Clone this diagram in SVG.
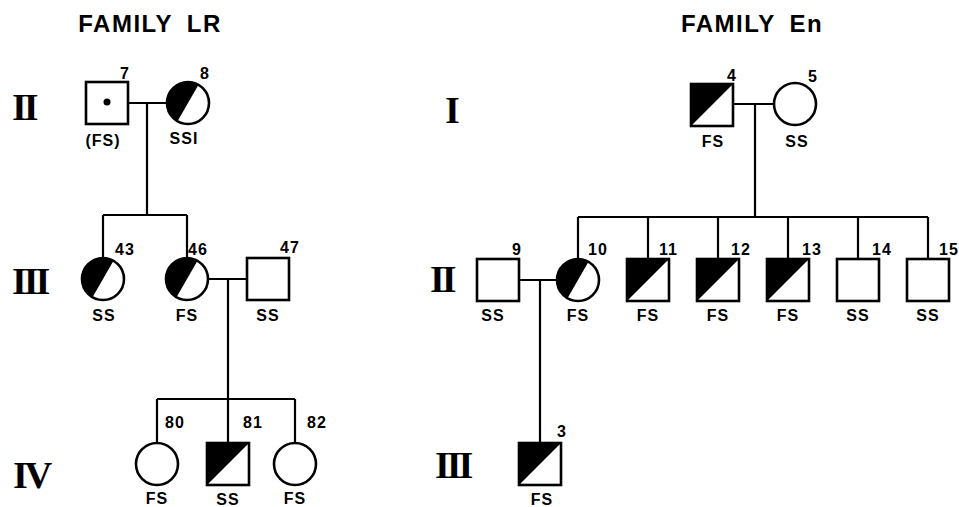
<svg xmlns="http://www.w3.org/2000/svg" xmlns:xlink="http://www.w3.org/1999/xlink" width="959" height="507" viewBox="0 0 959 507">
<style>
.sym{fill:none;stroke:#000;stroke-width:2.6}
.ln{fill:none;stroke:#000;stroke-width:2.2}
.t{font-family:"Liberation Sans",Arial,sans-serif;font-weight:bold;fill:#000}
.title{font-size:24px;letter-spacing:1.5px;word-spacing:6px;text-anchor:middle}
.num{font-size:16px;letter-spacing:1px}
.lab{font-size:16px;letter-spacing:1px;text-anchor:middle}
.rom{font-family:"Liberation Serif","Times New Roman",serif;font-weight:bold;font-size:38px;letter-spacing:-3px;fill:#000}
</style>
<defs>
<g id="hcirc"><path d="M-10.5,18.2 A21,21 0 0 1 10.5,-18.2 Z" fill="#000"/><circle r="21" class="sym"/></g>
<g id="hsq"><path d="M-21,-21 H21 L-21,21 Z" fill="#000"/><rect x="-21" y="-21" width="42" height="42" class="sym"/></g>
<g id="sq"><rect x="-21" y="-21" width="42" height="42" class="sym"/></g>
<g id="circ"><circle r="21" class="sym"/></g>
</defs>
<rect width="959" height="507" fill="#fff"/>

<text class="t title" x="150" y="32">FAMILY LR</text>
<text class="t title" x="752" y="32">FAMILY En</text>

<g id="generations">
<text class="rom" x="12" y="120">II</text>
<text class="rom" x="12" y="294">III</text>
<text class="rom" x="13" y="488">IV</text>
<text class="rom" x="445" y="123">I</text>
<text class="rom" x="430" y="292">II</text>
<text class="rom" x="435" y="478">III</text>
</g>

<g id="connectors">
<path class="ln" d="M128,103 H167 M147,103 V215 M103,215 H187 M103,215 V258 M187,215 V258"/>
<path class="ln" d="M208,279 H247 M228,279 V399 M157,399 H295 M157,399 V443 M228,399 V443 M295,399 V443"/>
<path class="ln" d="M733,104 H774 M755,104 V217 M578,217 H928 M578,217 V259 M648,217 V259 M718,217 V259 M788,217 V259 M858,217 V259 M928,217 V259"/>
<path class="ln" d="M519,280 H557 M540,280 V443"/>
</g>

<g id="LR7"><use xlink:href="#sq" x="107" y="103"/><circle cx="107" cy="102" r="3.5" fill="#000"/><text class="t num" x="120" y="79">7</text><text class="t lab" x="103" y="146">(FS)</text></g>
<g id="LR8"><use xlink:href="#hcirc" x="188" y="103"/><text class="t num" x="200" y="79">8</text><text class="t lab" x="184" y="144">SSI</text></g>
<g id="LR43"><use xlink:href="#hcirc" x="103" y="279"/><text class="t num" x="115" y="255">43</text><text class="t lab" x="104" y="321">SS</text></g>
<g id="LR46"><use xlink:href="#hcirc" x="187" y="279"/><text class="t num" x="188" y="255">46</text><text class="t lab" x="187" y="321">FS</text></g>
<g id="LR47"><use xlink:href="#sq" x="268" y="279"/><text class="t num" x="280" y="253">47</text><text class="t lab" x="268" y="321">SS</text></g>
<g id="LR80"><use xlink:href="#circ" x="157" y="464"/><text class="t num" x="165" y="428">80</text><text class="t lab" x="157" y="504">FS</text></g>
<g id="LR81"><use xlink:href="#hsq" x="228" y="464"/><text class="t num" x="243" y="428">81</text><text class="t lab" x="228" y="505">SS</text></g>
<g id="LR82"><use xlink:href="#circ" x="295" y="464"/><text class="t num" x="307" y="428">82</text><text class="t lab" x="295" y="504">FS</text></g>

<g id="En4"><use xlink:href="#hsq" x="712" y="105"/><text class="t num" x="727" y="81">4</text><text class="t lab" x="713" y="147">FS</text></g>
<g id="En5"><use xlink:href="#circ" x="795" y="104"/><text class="t num" x="808" y="82">5</text><text class="t lab" x="797" y="147">SS</text></g>
<g id="En9"><use xlink:href="#sq" x="498" y="280"/><text class="t num" x="512" y="255">9</text><text class="t lab" x="493" y="321">SS</text></g>
<g id="En10"><use xlink:href="#hcirc" x="578" y="280"/><text class="t num" x="588" y="255">10</text><text class="t lab" x="578" y="321">FS</text></g>
<g id="En11"><use xlink:href="#hsq" x="648" y="280"/><text class="t num" x="659" y="255">11</text><text class="t lab" x="648" y="321">FS</text></g>
<g id="En12"><use xlink:href="#hsq" x="718" y="280"/><text class="t num" x="731" y="255">12</text><text class="t lab" x="718" y="321">FS</text></g>
<g id="En13"><use xlink:href="#hsq" x="788" y="280"/><text class="t num" x="802" y="255">13</text><text class="t lab" x="788" y="321">FS</text></g>
<g id="En14"><use xlink:href="#sq" x="858" y="280"/><text class="t num" x="872" y="255">14</text><text class="t lab" x="858" y="321">SS</text></g>
<g id="En15"><use xlink:href="#sq" x="928" y="280"/><text class="t num" x="939" y="255" letter-spacing="0">15</text><text class="t lab" x="928" y="321">SS</text></g>
<g id="En3"><use xlink:href="#hsq" x="540" y="464"/><text class="t num" x="557" y="437">3</text><text class="t lab" x="542" y="505">FS</text></g>
</svg>
